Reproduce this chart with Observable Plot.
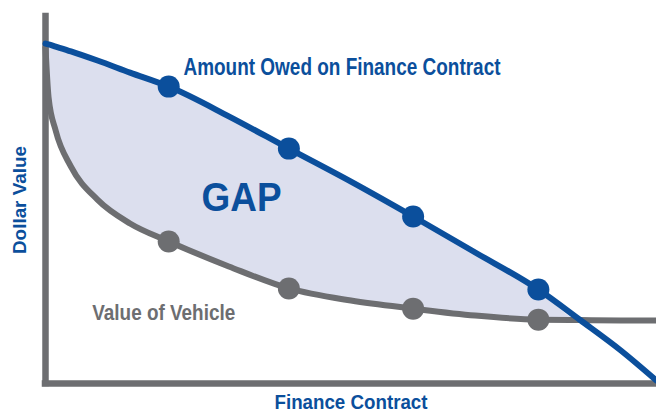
<!DOCTYPE html>
<html><head><meta charset="utf-8">
<script src="https://cdn.jsdelivr.net/npm/d3@7"></script>
<script src="https://cdn.jsdelivr.net/npm/@observablehq/plot@0.6"></script>
<style>body{margin:0;background:#fff}</style>
</head><body><div id="chart"></div>
<script>
// Finance contract months (x) and dollar value index (y)
const months       = [0,    0.3,  1,    2.5,  5.1,  8.3,  12.1, 18,   23.9, 30,   36.1, 42.2, 48.4, 52.5, 56.5, 60];
const amountOwed   = [92.6, 92.4, 91.8, 90.5, 88.0, 84.7, 80.9, 72.8, 64.0, 55.0, 45.5, 35.7, 25.6, 17.3, 9.0,  0.8];
const vehicleValue = [91.5, 78.0, 68.9, 59.1, 50.1, 43.6, 38.7, 31.9, 25.9, 22.6, 20.4, 18.5, 17.4, 17.3, 17.2, 17.2];
const dotMonths = [12.1, 23.9, 36.1, 48.4];

const labelText = ["Amount Owed on Finance Contract", "GAP", "Value of Vehicle"];
const labelX = [13.55, 19.25, 4.59];
const labelY = [86.1, 50.4, 19.1];
const xAxisLabel = "Finance Contract";
const yAxisLabel = "Dollar Value";

const BLUE = "#0b4f9c", GRAY = "#6d6e71", FILL = "#dcdfee";
const FONT = "'Liberation Sans', Arial, sans-serif";

const rows = months.map((m, i) => ({m, owed: amountOwed[i], value: vehicleValue[i]}));
const dotRows = rows.filter(d => dotMonths.includes(d.m));
const labels = labelText.map((t, i) => ({t, x: labelX[i], y: labelY[i]}));

const chart = Plot.plot({
  width: 656, height: 414,
  marginLeft: 45, marginRight: 0, marginTop: 16, marginBottom: 31,
  x: {domain: [0, 60], axis: null},
  y: {domain: [0, 100], axis: null},
  style: {background: "#fff"},
  marks: [
    Plot.areaY(rows, {x: "m", y1: "value", y2: d => Math.max(d.owed, d.value), curve: "monotone-x", fill: FILL}),
    Plot.ruleX([0], {stroke: GRAY, strokeWidth: 6.5, strokeLinecap: "square"}),
    Plot.ruleY([0], {stroke: GRAY, strokeWidth: 6.5, strokeLinecap: "square"}),
    Plot.line(rows, {x: "m", y: "value", curve: "monotone-x", stroke: GRAY, strokeWidth: 6}),
    Plot.line(rows, {x: "m", y: "owed", curve: "monotone-x", stroke: BLUE, strokeWidth: 6}),
    Plot.dot(dotRows, {x: "m", y: "value", r: 11, fill: GRAY}),
    Plot.dot(dotRows, {x: "m", y: "owed", r: 11, fill: BLUE}),
    Plot.text([labels[0]], {x: "x", y: "y", text: "t", textAnchor: "start", lineAnchor: "middle", fontSize: 23, fontWeight: "bold", fontFamily: FONT, fill: BLUE, className: "lbl-owed"}),
    Plot.text([labels[1]], {x: "x", y: "y", text: "t", textAnchor: "middle", lineAnchor: "middle", fontSize: 40, fontWeight: "bold", fontFamily: FONT, fill: BLUE, className: "lbl-gap"}),
    Plot.text([labels[2]], {x: "x", y: "y", text: "t", textAnchor: "start", lineAnchor: "middle", fontSize: 22, fontWeight: "bold", fontFamily: FONT, fill: GRAY, className: "lbl-value"}),
    Plot.text([xAxisLabel], {frameAnchor: "bottom", textAnchor: "middle", lineAnchor: "middle", dy: 18.5, fontSize: 21, fontWeight: "bold", fontFamily: FONT, fill: BLUE, className: "lbl-x"}),
    Plot.text([yAxisLabel], {frameAnchor: "left", textAnchor: "middle", lineAnchor: "middle", dx: -26, rotate: -90, fontSize: 19, fontWeight: "bold", fontFamily: FONT, fill: BLUE, className: "lbl-y"})
  ]
});
// condense labels to the narrow widths of the original typeface
const widths = {"lbl-owed": 317, "lbl-gap": 80, "lbl-value": 143, "lbl-x": 153, "lbl-y": 108};
for (const [cls, w] of Object.entries(widths)) {
  d3.select(chart).selectAll(`.${cls} text`).attr("textLength", w).attr("lengthAdjust", "spacingAndGlyphs");
}
document.getElementById("chart").appendChild(chart);
</script>
</body></html>
